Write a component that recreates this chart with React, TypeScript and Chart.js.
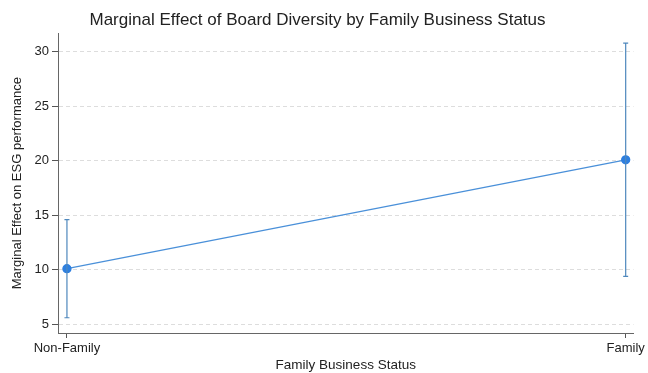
import React, { useEffect, useRef } from "react";
import { Chart, registerables } from "chart.js";

Chart.register(...registerables);

const categories = ["Non-Family", "Family"];
const effects = [10.1, 20.1];
const ciLower = [5.6, 9.4];
const ciUpper = [14.6, 30.8];
const yTicks = [5, 10, 15, 20, 25, 30];

const errorBarPlugin = {
  id: "errorBars",
  afterDatasetsDraw(chart: any) {
    const { ctx, scales } = chart;
    const xs = scales.x;
    const ys = scales.y;
    ctx.save();
    ctx.strokeStyle = "#4f88bd";
    ctx.lineWidth = 1.2;
    categories.forEach((_, i) => {
      const x = xs.getPixelForValue(i);
      const yl = ys.getPixelForValue(ciLower[i]);
      const yu = ys.getPixelForValue(ciUpper[i]);
      ctx.beginPath();
      ctx.moveTo(x, yl);
      ctx.lineTo(x, yu);
      ctx.moveTo(x - 2.5, yl);
      ctx.lineTo(x + 2.5, yl);
      ctx.moveTo(x - 2.5, yu);
      ctx.lineTo(x + 2.5, yu);
      ctx.stroke();
    });
    ctx.restore();
  },
};

export default function App() {
  const ref = useRef<HTMLCanvasElement>(null);
  useEffect(() => {
    document.body.style.margin = "0";
    const chart = new Chart(ref.current!, {
      type: "line",
      data: {
        datasets: [
          {
            data: effects.map((v, i) => ({ x: i, y: v })),
            borderColor: "#4a90d9",
            borderWidth: 1.3,
            pointBackgroundColor: "#2d7fe0",
            pointBorderColor: "#2d7fe0",
            pointRadius: 4,
            tension: 0,
          },
        ],
      },
      options: {
        responsive: false,
        animation: false,
        layout: { padding: { left: 0, right: 13, top: 0, bottom: 0 } },
        plugins: {
          legend: { display: false },
          tooltip: { enabled: false },
          title: {
            display: true,
            text: "Marginal Effect of Board Diversity by Family Business Status",
            color: "#222",
            font: { family: "Liberation Sans", size: 17, weight: "normal" },
            padding: { top: 10, bottom: 3 },
          },
        },
        scales: {
          x: {
            type: "linear",
            min: -0.016,
            max: 1.014,
            afterBuildTicks: (s: any) => {
              s.ticks = categories.map((_, i) => ({ value: i }));
            },
            afterFit: (s: any) => {
              s.height = 40;
            },
            ticks: {
              callback: (v: any) => categories[v as number] ?? "",
              color: "#222",
              font: { family: "Liberation Sans", size: 13 },
              padding: 3,
              maxRotation: 0,
            },
            grid: {
              drawOnChartArea: false,
              drawTicks: true,
              tickLength: 5,
              tickColor: "#555",
            },
            border: { display: true, color: "#666", width: 1 },
            title: {
              display: true,
              text: "Family Business Status",
              color: "#222",
              font: { family: "Liberation Sans", size: 13.5 },
              padding: { top: 0, bottom: 0 },
            },
          },
          y: {
            type: "linear",
            min: 4.2,
            max: 31.7,
            afterBuildTicks: (s: any) => {
              s.ticks = yTicks.map((v) => ({ value: v }));
            },
            afterFit: (s: any) => {
              s.width = 58;
            },
            ticks: {
              color: "#222",
              font: { family: "Liberation Sans", size: 13 },
              padding: 3,
            },
            grid: {
              color: "#dddddd",
              tickColor: "#555",
              tickLength: 6,
              tickBorderDash: [],
            },
            border: { display: true, color: "#666", width: 1, dash: [4, 3] },
            title: {
              display: true,
              text: "Marginal Effect on ESG performance",
              color: "#222",
              font: { family: "Liberation Sans", size: 13 },
              padding: { top: 10, bottom: 0 },
            },
          },
        },
      },
      plugins: [errorBarPlugin],
    });
    return () => chart.destroy();
  }, []);
  return <canvas ref={ref} width={648} height={373} />;
}
